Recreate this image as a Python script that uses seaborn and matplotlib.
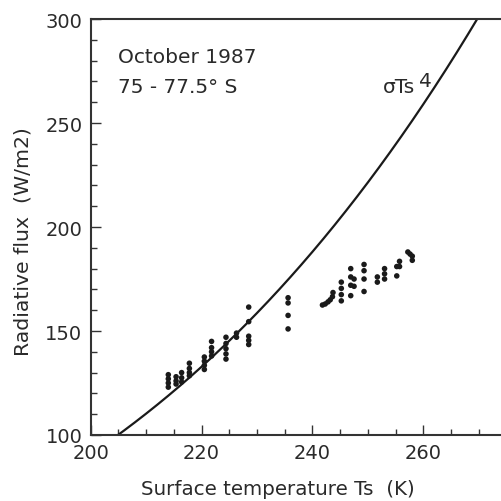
import numpy as np
import pandas as pd
import matplotlib
matplotlib.use("Agg")
import matplotlib.pyplot as plt
from matplotlib.ticker import MultipleLocator
import seaborn as sns

ts_obs = [214.0, 214.0, 214.0, 214.0, 215.4, 215.4, 215.4, 216.4, 216.4, 216.4,
          217.8, 217.8, 217.8, 217.8, 220.5, 220.5, 220.5, 220.5, 221.8, 221.8,
          221.8, 221.8, 224.4, 224.4, 224.4, 224.4, 224.4, 226.3, 226.3,
          228.5, 228.5, 228.5, 228.5, 228.5,
          235.6, 235.6, 235.6, 235.6,
          241.8, 242.3, 242.8, 243.2, 243.6, 243.7,
          245.2, 245.2, 245.2, 245.2, 246.9, 246.9, 246.9, 246.9, 247.5, 247.5,
          249.3, 249.3, 249.3, 249.3, 251.7, 251.7, 253.0, 253.0, 253.0,
          255.2, 255.2, 255.7, 255.7, 257.2, 257.6, 258.0, 258.0]
flux_obs = [129.0, 127.0, 125.0, 123.0, 128.0, 126.0, 124.5, 130.0, 127.5, 125.5,
            134.5, 132.0, 130.0, 128.5, 137.5, 135.5, 133.5, 131.5, 145.0, 142.0,
            140.0, 138.0, 147.0, 144.0, 141.5, 139.0, 136.5, 149.0, 147.0,
            161.5, 154.5, 147.5, 145.5, 143.5,
            166.0, 163.5, 157.5, 151.0,
            162.5, 163.0, 164.0, 165.0, 166.5, 168.5,
            173.5, 170.5, 167.5, 164.5, 180.0, 176.0, 172.0, 167.0, 175.0, 171.5,
            182.0, 179.0, 175.0, 169.0, 176.0, 173.5, 180.0, 177.5, 175.0,
            181.0, 176.5, 183.5, 181.0, 188.0, 187.0, 186.0, 184.0]

# sigma Ts^4 curve
sigma = 5.67e-8
ts_curve = np.arange(200.0, 276.0, 0.5)

df = pd.DataFrame({"ts": ts_obs, "flux": flux_obs})
curve = pd.DataFrame({"ts": ts_curve, "flux": sigma * ts_curve ** 4})

sns.set_theme(style="white")
plt.rcParams["font.family"] = ["DejaVu Sans"]

fig = plt.figure(figsize=(5.01, 5.02), dpi=100)
ax = fig.add_axes([0.181, 0.1315, 0.819, 0.8285])

sns.lineplot(data=curve, x="ts", y="flux", color="#1a1a1a", linewidth=1.6, ax=ax)
sns.scatterplot(data=df, x="ts", y="flux", color="#1a1a1a", s=16, edgecolor="none", ax=ax)

ax.set_xlim(200, 274)
ax.set_ylim(100, 300)
ax.xaxis.set_major_locator(MultipleLocator(20))
ax.xaxis.set_minor_locator(MultipleLocator(5))
ax.yaxis.set_major_locator(MultipleLocator(50))
ax.yaxis.set_minor_locator(MultipleLocator(10))
ax.tick_params(which="both", direction="in", left=True, bottom=True, top=False, right=False,
               color="#333333", width=1.0)
ax.tick_params(which="major", length=7, labelsize=14, pad=6, labelcolor="#2a2a2a")
ax.tick_params(which="minor", length=4)

for side in ["left", "bottom", "top"]:
    ax.spines[side].set_color("#333333")
    ax.spines[side].set_linewidth(1.5)
ax.spines["right"].set_visible(False)

ax.set_xlabel("Surface temperature Ts  (K)", fontsize=14.3, color="#2a2a2a")
ax.xaxis.set_label_coords(0.457, -0.105)
ax.set_ylabel("Radiative flux  (W/m2)", fontsize=14.7, color="#2a2a2a")
ax.yaxis.set_label_coords(-0.143, 0.467)

ax.text(0.067, 0.897, "October 1987", transform=ax.transAxes, fontsize=14.5,
        color="#2a2a2a", va="baseline")
ax.text(0.067, 0.825, "75 - 77.5\u00b0 S", transform=ax.transAxes, fontsize=14.5,
        color="#2a2a2a", va="baseline")
ax.text(0.713, 0.825, "\u03c3Ts", transform=ax.transAxes, fontsize=14.5,
        color="#2a2a2a", va="baseline")
ax.text(0.80, 0.84, "4", transform=ax.transAxes, fontsize=14.5,
        color="#2a2a2a", va="baseline")

fig.savefig("out.png", dpi=100)
